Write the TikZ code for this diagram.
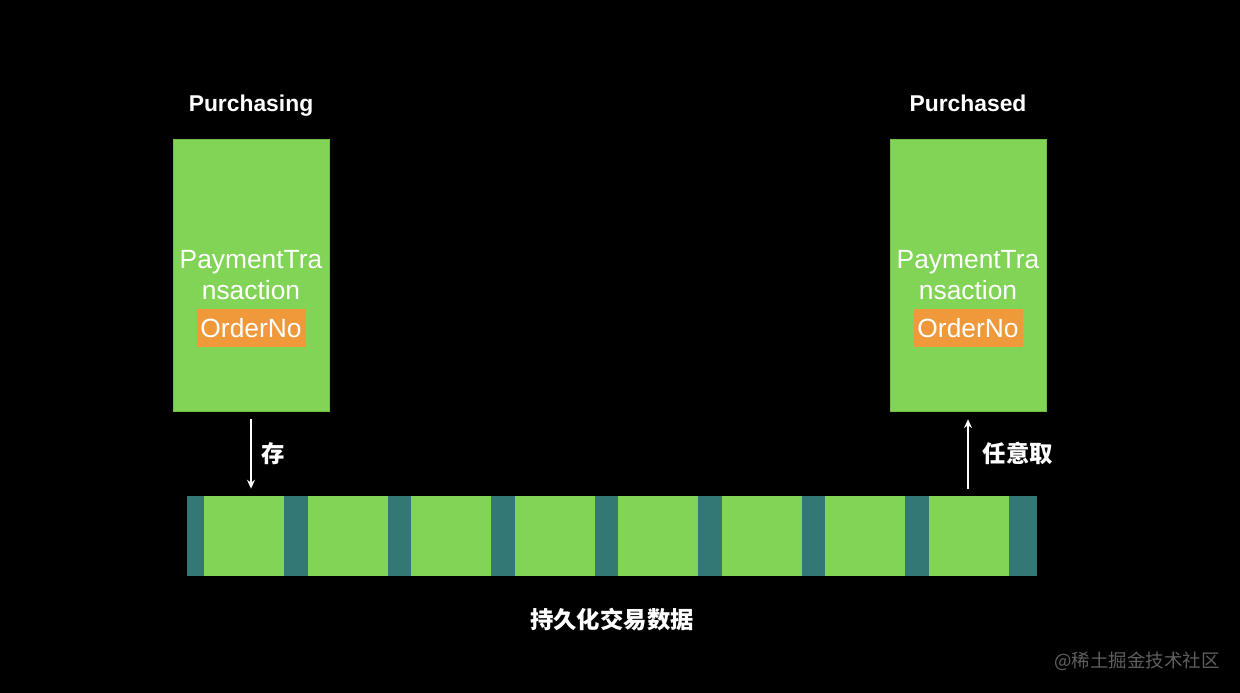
\documentclass[tikz,border=0pt]{standalone}
\usepackage{fontspec}
\setmainfont{Liberation Sans}
\newfontfamily\cjk{Noto Sans CJK SC}
\usetikzlibrary{arrows.meta, positioning}

\definecolor{cellgreen}{RGB}{130,212,86}
\definecolor{edgegreen}{RGB}{112,192,72}
\definecolor{gapteal}{RGB}{51,120,116}
\definecolor{keyorange}{RGB}{240,153,58}

\begin{document}
\begin{tikzpicture}[box/.style={rectangle, fill=cellgreen, draw=edgegreen, line width=0.4pt, minimum width=3.12cm, minimum height=5.44cm}, field/.style={rectangle, fill=keyorange, text=white, inner sep=0pt, minimum width=2.18cm, minimum height=0.76cm, font=\fontsize{15}{17}\selectfont}, cell/.style={rectangle, fill=cellgreen, inner sep=0pt, minimum width=1.6cm, minimum height=1.6cm}, title/.style={text=white, inner sep=0pt, font=\fontsize{13}{15}\selectfont\bfseries}, every node/.style={text=white}, >={Stealth[length=5pt, width=4.5pt]}]
	% Background
	\fill[black] (0,0) rectangle (24.8,13.86);
	\useasboundingbox (0,0) rectangle (24.8,13.86);

	% Nodes
	\node[box] (purchasing) at (5.02,8.36) {};
	\node[box] (purchased) at (19.36,8.36) {};
	\node[title, above=0.54cm of purchasing, anchor=base] (titleL) {Purchasing};
	\node[title, above=0.54cm of purchased, anchor=base] (titleR) {Purchased};

	\node[align=center, inner sep=0pt, font=\fontsize{15}{17.6}\selectfont] (txL) at (purchasing.center) {PaymentTra\\nsaction};
	\node[field, below=0.17cm of txL] (orderL) {OrderNo};
	\node[align=center, inner sep=0pt, font=\fontsize{15}{17.6}\selectfont] (txR) at (purchased.center) {PaymentTra\\nsaction};
	\node[field, below=0.17cm of txR] (orderR) {OrderNo};

	% Storage bar
	\node[rectangle, fill=gapteal, inner sep=0pt, minimum width=17cm, minimum height=1.6cm] (bar) at (12.24,3.14) {};
	\foreach \i in {0,...,7}
		\node[cell] (c\i) at (4.88+2.07*\i,3.14) {};
	\node[inner sep=0pt, below=0.62cm of bar, font=\cjk\bfseries\fontsize{13.3}{15}\selectfont] (store) {持久化交易数据};

	% Transitions
	\draw[->, white, line width=0.8pt, shorten <=4.5pt, shorten >=4pt] (purchasing.south) -- (purchasing.south |- bar.north) node[midway, right=0.2cm, inner sep=0pt, font=\cjk\bfseries\fontsize{13.3}{15}\selectfont] {存};
	\draw[->, white, line width=0.8pt, shorten <=4pt, shorten >=4.5pt] (purchased.south |- bar.north) -- (purchased.south) node[midway, right=0.28cm, inner sep=0pt, font=\cjk\bfseries\fontsize{13.3}{15}\selectfont] {任意取};

	% Watermark
	\node[text={rgb,255:red,95;green,95;blue,95}, inner sep=0pt, font=\cjk\fontsize{10.5}{12}\selectfont] (mark) at (22.74,0.64) {@稀土掘金技术社区};
\end{tikzpicture}
\end{document}
